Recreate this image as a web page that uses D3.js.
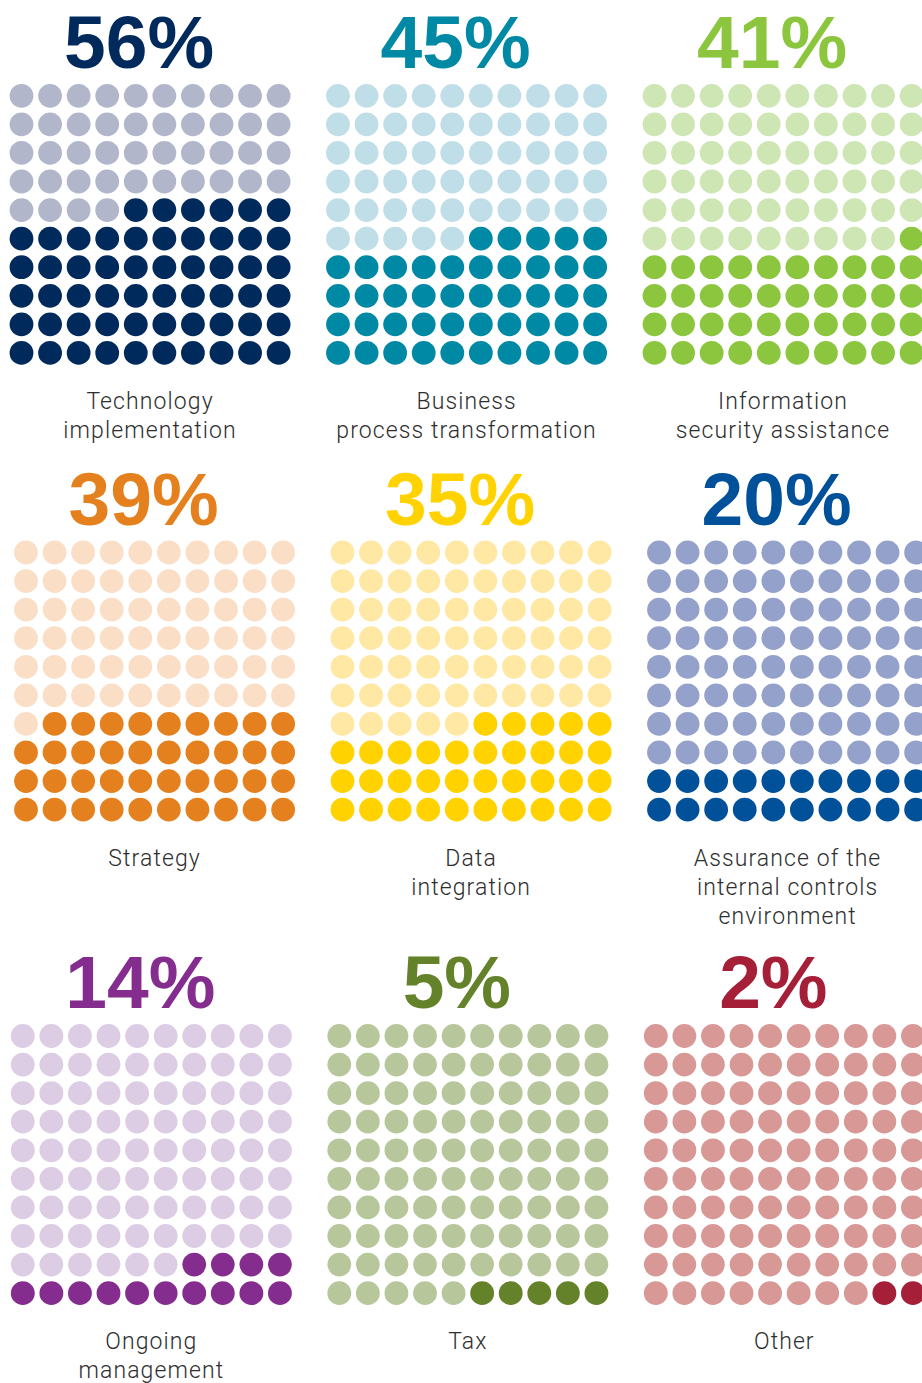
<!DOCTYPE html>
<html>
<head>
<meta charset="utf-8">
<script src="https://cdn.jsdelivr.net/npm/d3@7"></script>
<style>
  html, body { margin: 0; padding: 0; background: #ffffff; }
  svg { display: block; }
</style>
</head>
<body>
<div id="chart"></div>
<script>
// ---- data ----
const categories = [
  ["Technology", "implementation"],
  ["Business", "process transformation"],
  ["Information", "security assistance"],
  ["Strategy"],
  ["Data", "integration"],
  ["Assurance of the", "internal controls", "environment"],
  ["Ongoing", "management"],
  ["Tax"],
  ["Other"]
];
const values = [56, 45, 41, 39, 35, 20, 14, 5, 2];
const valueLabels = ["56%", "45%", "41%", "39%", "35%", "20%", "14%", "5%", "2%"];
const darkColors  = ["#002a5c", "#0089a5", "#8cc63f", "#e5801e", "#ffd200", "#00509a", "#842d8e", "#63822a", "#a61f38"];
const lightColors = ["#b2b6cb", "#c0dee7", "#cee5b4", "#fbdec6", "#ffe8a3", "#94a1cb", "#dccce4", "#b8c79b", "#d79896"];

// ---- layout ----
const W = 922, H = 1383;
const gridN = 10;
const step = 28.57;
const radius = 11.9;
const colBase = 21.5, colStep = 316.5;
const rowShiftX = [0, 4.5, 1.3];
const rowTopY = [95.8, 552.5, 1036];

const svg = d3.select("#chart").append("svg")
  .attr("width", W).attr("height", H);

const cellScale = d3.scaleLinear().domain([0, gridN - 1]).range([0, step * (gridN - 1)]);
const cells = d3.range(gridN * gridN).map(i => ({ r: Math.floor(i / gridN), c: i % gridN }));

values.forEach((v, i) => {
  const pr = Math.floor(i / 3), pc = i % 3;
  const x0 = colBase + pc * colStep + rowShiftX[pr];
  const y0 = rowTopY[pr];
  const cx = x0 + cellScale(gridN - 1) / 2;
  const g = svg.append("g");

  // title
  g.append("text")
    .attr("x", cx - 11)
    .attr("y", y0 - 27.6)
    .attr("text-anchor", "middle")
    .attr("font-family", "'Liberation Sans', Arial, sans-serif")
    .attr("font-weight", "bold")
    .attr("font-size", 75)
    .attr("fill", darkColors[i])
    .text(valueLabels[i]);

  // dots: fill from bottom row, right to left
  g.selectAll("circle").data(cells).join("circle")
    .attr("cx", d => x0 + cellScale(d.c))
    .attr("cy", d => y0 + cellScale(d.r))
    .attr("r", radius)
    .attr("fill", d => {
      const k = (gridN - 1 - d.r) * gridN + (gridN - 1 - d.c);
      return k < v ? darkColors[i] : lightColors[i];
    });

  // label
  const lastY = y0 + cellScale(gridN - 1);
  const t = g.append("text")
    .attr("text-anchor", "middle")
    .attr("font-family", "Roboto, 'Liberation Sans', sans-serif")
    .attr("font-weight", 300)
    .attr("font-size", 23)
    .attr("letter-spacing", 1.1)
    .attr("fill", "#2e2e2e");
  categories[i].forEach((line, j) => {
    t.append("tspan")
      .attr("x", cx)
      .attr("y", lastY + 56 + j * 29.2)
      .text(line);
  });
});
</script>
</body>
</html>
